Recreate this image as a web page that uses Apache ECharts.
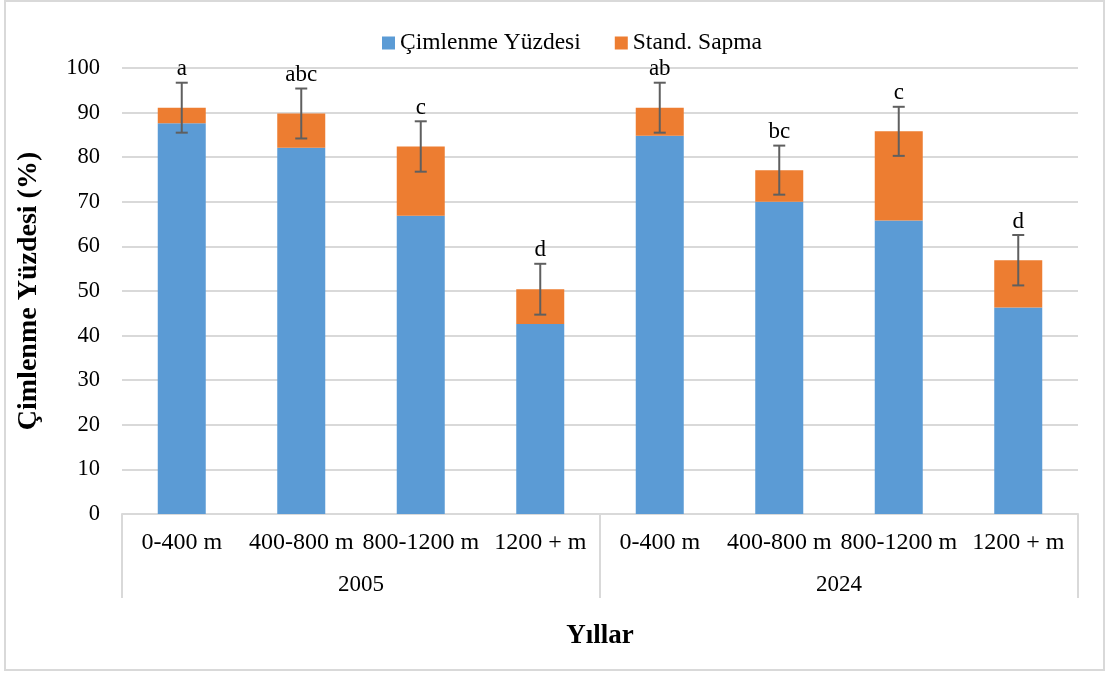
<!DOCTYPE html>
<html lang="tr">
<head>
    <meta charset="UTF-8">
    <title>Çimlenme Yüzdesi</title>
    <script src="https://cdn.jsdelivr.net/npm/echarts@6/dist/echarts.min.js"></script>
    <style>
        html, body { margin: 0; padding: 0; background: #fff; }
        #main { width: 1106px; height: 674px; }
    </style>
</head>
<body>
<div id="main"></div>
<script>
    // veriler
    var categories = ['0-400 m', '400-800 m', '800-1200 m', '1200 + m', '0-400 m', '400-800 m', '800-1200 m', '1200 + m'];
    var years = ['2005', '2024'];
    var cimlenme = [87.6, 82.1, 66.9, 42.6, 84.8, 70.0, 65.8, 46.3];
    var sapma = [3.5, 7.7, 15.5, 7.8, 6.3, 7.1, 20.0, 10.6];
    var hataPayi = [5.6, 5.6, 5.65, 5.7, 5.6, 5.5, 5.5, 5.65];
    var harfler = ['a', 'abc', 'c', 'd', 'ab', 'bc', 'c', 'd'];

    var fontAile = '"Liberation Serif", "Times New Roman", serif';

    var toplam = cimlenme.map(function (v, i) { return +(v + sapma[i]).toFixed(2); });
    var hataVeri = toplam.map(function (t, i) { return [i, t - hataPayi[i], t + hataPayi[i]]; });
    var harfVeri = toplam.map(function (t, i) { return [i, t + hataPayi[i], harfler[i]]; });

    var myChart = echarts.init(document.getElementById('main'));
    var option = {
        animation: false,
        textStyle: { fontFamily: fontAile },
        graphic: [{
            type: 'rect',
            shape: { x: 5, y: 1, width: 1099, height: 669 },
            style: { fill: 'none', stroke: '#d9d9d9', lineWidth: 2 }
        }],
        legend: {
            top: 26,
            left: 377,
            icon: 'rect',
            itemWidth: 13,
            itemHeight: 13,
            itemGap: 34,
            textStyle: { fontFamily: fontAile, fontSize: 23.5, color: '#000' },
            data: ['Çimlenme Yüzdesi', 'Stand. Sapma']
        },
        grid: { left: 122, right: 28, top: 68, bottom: 160 },
        xAxis: [{
            type: 'category',
            data: categories,
            axisLine: { lineStyle: { color: '#d9d9d9', width: 2 } },
            axisTick: { show: false },
            axisLabel: { margin: 17, fontSize: 24, color: '#000', fontFamily: fontAile, interval: 0 }
        }, {
            type: 'category',
            data: years,
            position: 'bottom',
            axisLine: { show: false },
            axisTick: { show: true, length: 84, lineStyle: { color: '#d9d9d9', width: 2 } },
            axisLabel: { margin: 59, fontSize: 23, color: '#000', fontFamily: fontAile },
            name: 'Yıllar',
            nameLocation: 'middle',
            nameGap: 109,
            nameTextStyle: { fontSize: 27, fontWeight: 'bold', color: '#000', fontFamily: fontAile }
        }],
        yAxis: {
            type: 'value',
            min: 0,
            max: 100,
            interval: 10,
            axisLine: { show: false },
            axisTick: { show: false },
            splitLine: { lineStyle: { color: '#d9d9d9', width: 2 } },
            axisLabel: { margin: 22, fontSize: 22.5, color: '#000', fontFamily: fontAile },
            name: 'Çimlenme Yüzdesi (%)',
            nameLocation: 'middle',
            nameGap: 79,
            nameTextStyle: { fontSize: 28, fontWeight: 'bold', color: '#000', fontFamily: fontAile }
        },
        series: [{
            name: 'Çimlenme Yüzdesi',
            type: 'bar',
            stack: 'toplam',
            barWidth: 48,
            itemStyle: { color: '#5b9bd5' },
            data: cimlenme
        }, {
            name: 'Stand. Sapma',
            type: 'bar',
            stack: 'toplam',
            barWidth: 48,
            itemStyle: { color: '#ed7d31' },
            data: sapma
        }, {
            name: 'hata',
            type: 'custom',
            z: 10,
            renderItem: function (params, api) {
                var alt = api.coord([api.value(0), api.value(1)]);
                var ust = api.coord([api.value(0), api.value(2)]);
                var w = 6;
                var stil = { stroke: '#5f5f5f', lineWidth: 2 };
                return {
                    type: 'group',
                    children: [
                        { type: 'line', shape: { x1: ust[0], y1: ust[1], x2: alt[0], y2: alt[1] }, style: stil },
                        { type: 'line', shape: { x1: ust[0] - w, y1: ust[1], x2: ust[0] + w, y2: ust[1] }, style: stil },
                        { type: 'line', shape: { x1: alt[0] - w, y1: alt[1], x2: alt[0] + w, y2: alt[1] }, style: stil }
                    ]
                };
            },
            encode: { x: 0, y: [1, 2] },
            data: hataVeri
        }, {
            name: 'harf',
            type: 'custom',
            z: 11,
            renderItem: function (params, api) {
                var p = api.coord([api.value(0), api.value(1)]);
                return {
                    type: 'text',
                    x: p[0],
                    y: p[1] - 2,
                    style: {
                        text: harfler[params.dataIndex],
                        fontFamily: fontAile,
                        fontSize: 23,
                        fill: '#000',
                        align: 'center',
                        verticalAlign: 'bottom'
                    }
                };
            },
            encode: { x: 0, y: 1 },
            data: harfVeri
        }]
    };
    myChart.setOption(option);
</script>
</body>
</html>
